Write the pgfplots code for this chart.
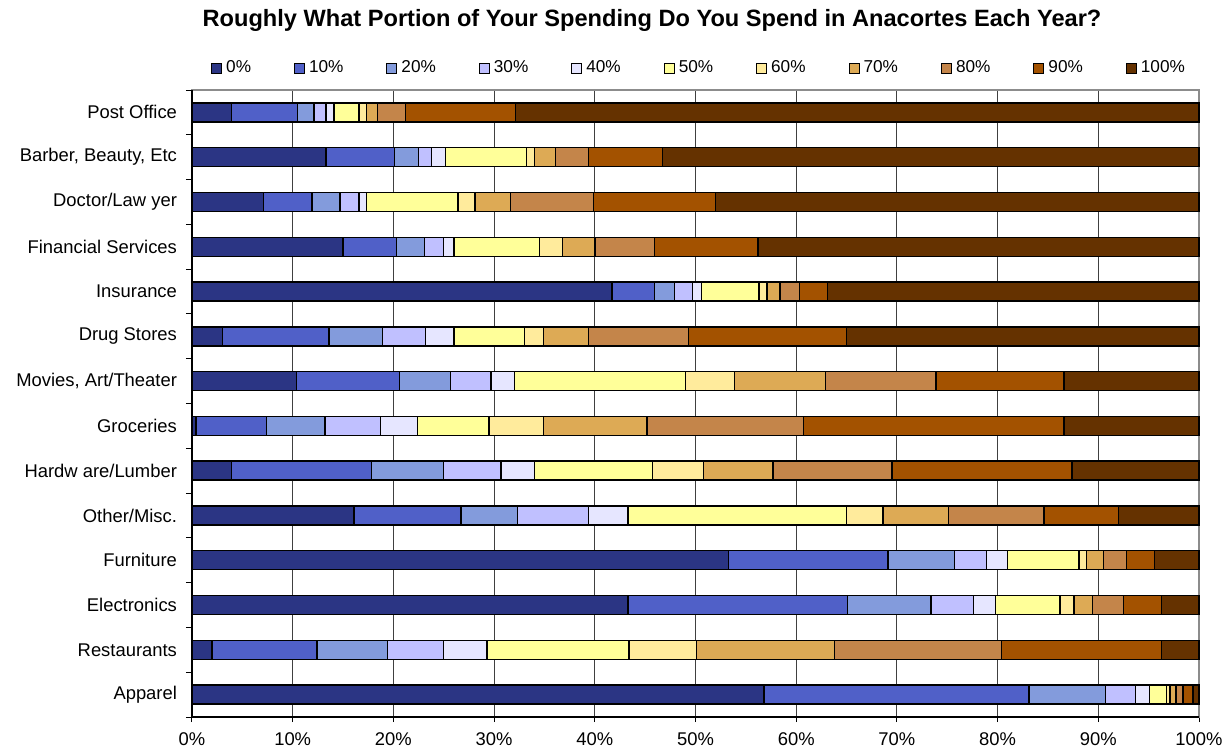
\documentclass[border=0pt]{standalone}
\usepackage{pgfplots}
\pgfplotsset{compat=1.18}
\usepackage{pgfplotstable}
\usepackage{fontspec}
\setmainfont{Liberation Sans}
\definecolor{c0}{HTML}{2B3584}
\definecolor{c10}{HTML}{5060C8}
\definecolor{c20}{HTML}{839BDC}
\definecolor{c30}{HTML}{C0C0FF}
\definecolor{c40}{HTML}{E6E6FF}
\definecolor{c50}{HTML}{FFFF99}
\definecolor{c60}{HTML}{FFEB9C}
\definecolor{c70}{HTML}{DDAA55}
\definecolor{c80}{HTML}{C4854A}
\definecolor{c90}{HTML}{A35200}
\definecolor{c100}{HTML}{653200}
\pgfplotstableread{
idx a b c d e f g h i j k
0  3.9  6.6 1.6 1.2 0.8  2.5 0.7  1.1  2.8 10.9 67.9
1 13.3  6.8 2.4 1.3 1.4  8.0 0.8  2.1  3.3  7.3 53.3
2  7.1  4.8 2.8 1.9 0.7  9.1 1.7  3.5  8.3 12.1 48.0
3 15.0  5.3 2.8 1.9 1.0  8.5 2.3  3.2  5.9 10.3 43.8
4 41.7  4.2 2.0 1.8 0.9  5.7 0.8  1.3  1.9  2.8 36.9
5  3.0 10.6 5.3 4.3 2.8  7.0 1.9  4.5  9.9 15.7 35.0
6 10.4 10.2 5.1 4.0 2.3 17.0 4.9  9.0 11.0 12.7 13.4
7  0.4  7.0 5.8 5.5 3.7  7.1 5.4 10.3 15.5 25.9 13.4
8  3.9 13.9 7.2 5.7 3.3 11.7 5.1  6.9 11.8 17.9 12.6
9 16.1 10.6 5.6 7.1 3.9 21.7 3.6  6.5  9.5  7.4  8.0
10 53.3 15.8 6.6 3.2 2.1 7.1 0.7  1.7  2.3  2.8  4.4
11 43.3 21.8 8.3 4.2 2.2 6.4 1.4  1.8  3.1  3.8  3.7
12  2.0 10.4 7.0 5.6 4.3 14.1 6.7 13.7 16.6 15.9 3.7
13 56.8 26.3 7.6 3.0 1.4 1.7 0.3  0.6  0.7  1.0  0.6
}\data
\begin{document}
\begin{tikzpicture}
\useasboundingbox (-96pt,-19pt) rectangle (519.5pt,358.5pt);
\begin{axis}[
  at={(0,0)}, anchor=south west,
  scale only axis, width=503.5pt, height=313.5pt,
  xbar stacked, bar width=9.5pt,
  xmin=0, xmax=100, ymin=-0.5, ymax=13.5, y dir=reverse,
  xtick={0,10,...,100},
  xticklabel={\pgfmathprintnumber{\tick}\%},
  /pgf/number format/assume math mode=true,
  ytick={0,...,13},
  yticklabels={Post Office,{Barber, Beauty, Etc},Doctor/Law yer,Financial Services,Insurance,Drug Stores,{Movies, Art/Theater},Groceries,Hardw are/Lumber,Other/Misc.,Furniture,Electronics,Restaurants,Apparel},
  minor ytick={-0.5,0.5,...,13.5},
  major y tick style={draw=none},
  minor tick length=3pt,
  major tick length=2.5pt,
  tick align=outside,
  tick style={black, line width=0.5pt},
  xtick pos=bottom, ytick pos=left,
  xmajorgrids, major grid style={black!75, line width=0.45pt},
  axis line style={draw=black!45, line width=0.6pt},
  tick label style={font=\fontsize{9.2}{11}\selectfont},
  yticklabel style={xshift=-1.5pt},
  xticklabel style={yshift=-2pt},
  every axis plot/.append style={draw=black, line width=0.7pt},
  legend columns=11,
  legend style={at={(0.5045,1.035)}, anchor=center, draw=none, fill=none,
    font=\fontsize{8.6}{10}\selectfont, /tikz/every even column/.append style={column sep=19.5pt}},
  legend image code/.code={\draw[#1, line width=0.5pt] (0pt,-2.5pt) rectangle (5pt,2.5pt);},
  clip=false,
]
\addplot[fill=c0] table[x=a,y=idx]{\data};
\addplot[fill=c10] table[x=b,y=idx]{\data};
\addplot[fill=c20] table[x=c,y=idx]{\data};
\addplot[fill=c30] table[x=d,y=idx]{\data};
\addplot[fill=c40] table[x=e,y=idx]{\data};
\addplot[fill=c50] table[x=f,y=idx]{\data};
\addplot[fill=c60] table[x=g,y=idx]{\data};
\addplot[fill=c70] table[x=h,y=idx]{\data};
\addplot[fill=c80] table[x=i,y=idx]{\data};
\addplot[fill=c90] table[x=j,y=idx]{\data};
\addplot[fill=c100] table[x=k,y=idx]{\data};
\legend{0\%,10\%,20\%,30\%,40\%,50\%,60\%,70\%,80\%,90\%,100\%}
\draw[black, line width=0.7pt] (rel axis cs:0,1) -- (rel axis cs:0,0) -- (rel axis cs:1,0);
\end{axis}
\node[font=\bfseries\fontsize{11.8}{14}\selectfont] at (230pt,348.5pt) {Roughly What Portion of Your Spending Do You Spend in Anacortes Each Year?};
\end{tikzpicture}
\end{document}
